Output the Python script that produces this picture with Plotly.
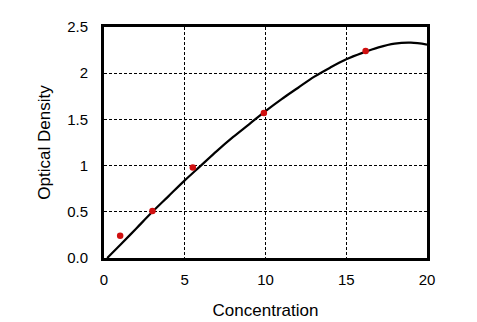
import plotly.graph_objects as go

# Standard measurements (concentration vs optical density)
std_conc = [1.0, 3.0, 5.5, 9.9, 16.2]
std_od = [0.24, 0.51, 0.98, 1.57, 2.24]

# Fitted standard curve
curve_conc = [0.2, 1, 2, 3, 4, 5, 6, 7, 8, 9, 10, 11, 12, 13, 14, 15, 16, 17, 18, 19, 20]
curve_od = [0.0, 0.14, 0.32, 0.50, 0.67, 0.84, 1.00, 1.16, 1.31, 1.45, 1.59, 1.72,
            1.84, 1.96, 2.06, 2.15, 2.22, 2.28, 2.32, 2.33, 2.31]

x_ticks = [0, 5, 10, 15, 20]
y_ticks = [0, 0.5, 1, 1.5, 2, 2.5]
y_tick_text = ["0.0", "0.5", "1", "1.5", "2", "2.5"]

fig = go.Figure()
fig.add_trace(go.Scatter(
    x=curve_conc, y=curve_od, mode="lines",
    line=dict(color="black", width=2.2, shape="spline", smoothing=1.0),
    hoverinfo="skip",
))
fig.add_trace(go.Scatter(
    x=std_conc, y=std_od, mode="markers",
    marker=dict(color="#d01010", size=6.5),
))

font = dict(family="Liberation Sans, Arial, sans-serif", size=14, color="black")

fig.update_layout(
    width=477, height=322,
    margin=dict(l=104, r=50, t=27, b=64),
    paper_bgcolor="white", plot_bgcolor="white",
    showlegend=False,
    font=font,
    xaxis=dict(
        range=[0, 20], tickvals=x_ticks, ticks="outside", ticklen=6,
        tickcolor="rgba(0,0,0,0)", automargin=False,
        showline=True, linecolor="black", linewidth=3, mirror=True,
        showgrid=True, gridcolor="black", gridwidth=1.4, griddash="3px,2px",
        zeroline=False,
        title=dict(text="Concentration", font=dict(size=17), standoff=18),
        tickfont=dict(size=15),
    ),
    yaxis=dict(
        range=[0, 2.5], tickvals=y_ticks, ticktext=y_tick_text,
        ticks="outside", ticklen=10, tickcolor="rgba(0,0,0,0)", automargin=False,
        showline=True, linecolor="black", linewidth=3, mirror=True,
        showgrid=True, gridcolor="black", gridwidth=1.4, griddash="3px,2px",
        zeroline=False,
        title=dict(text="Optical Density", font=dict(size=17), standoff=13),
        tickfont=dict(size=15),
    ),
)

fig.write_html("out.html")
